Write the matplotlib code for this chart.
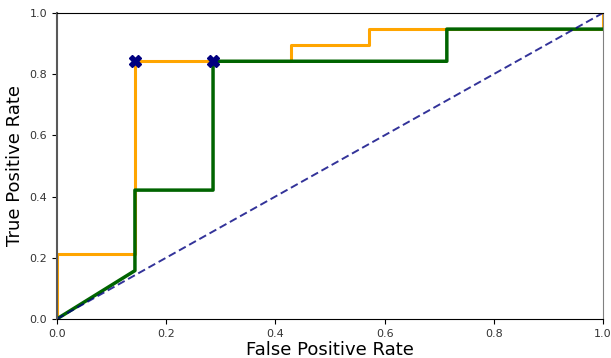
import matplotlib.pyplot as plt

# ROC curve points
fpr_a = [0.0, 0.0, 0.143, 0.143, 0.286, 0.429, 0.429, 0.571, 0.571, 1.0, 1.0]
tpr_a = [0.0, 0.211, 0.211, 0.842, 0.842, 0.842, 0.895, 0.895, 0.947, 0.947, 1.0]

fpr_b = [0.0, 0.143, 0.143, 0.286, 0.286, 0.714, 0.714, 1.0]
tpr_b = [0.0, 0.158, 0.421, 0.421, 0.842, 0.842, 0.947, 0.947]

# chosen thresholds
mark_x = [0.143, 0.286]
mark_y = [0.842, 0.842]

fig = plt.figure(figsize=(6.11, 3.58), dpi=100)
ax = fig.add_axes([0.093, 0.109, 0.894, 0.855])

ax.plot(fpr_a, tpr_a, color='orange', lw=2.2)
ax.plot(fpr_b, tpr_b, color='darkgreen', lw=2.5)
ax.plot([0, 1], [0, 1], color='navy', lw=1.4, ls=(0, (4, 2)), alpha=0.8)
ax.plot(mark_x, mark_y, 'X', color='navy', ms=8, ls='none')

ax.set_xlim(0, 1)
ax.set_ylim(0, 1)
ax.set_xticks([0, 0.2, 0.4, 0.6, 0.8, 1.0])
ax.set_yticks([0, 0.2, 0.4, 0.6, 0.8, 1.0])
ax.tick_params(labelsize=8, labelcolor='0.2')
ax.set_xlabel('False Positive Rate', fontsize=13, labelpad=2)
ax.set_ylabel('True Positive Rate', fontsize=13)
ax.spines['left'].set_color('0.35')
ax.spines['left'].set_linewidth(1.5)
ax.spines['right'].set_color('0.5')

fig.savefig('out.png', dpi=100)
